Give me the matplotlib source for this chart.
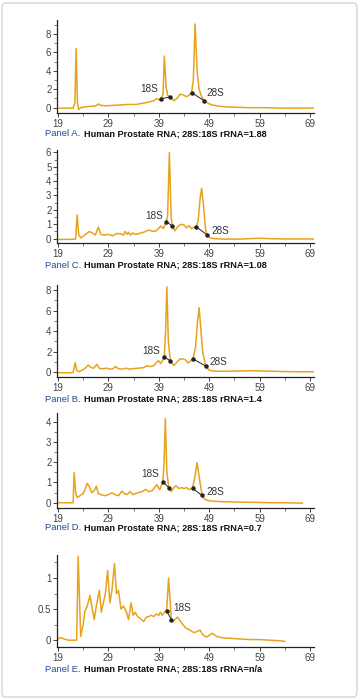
import matplotlib
matplotlib.use("Agg")
import matplotlib.pyplot as plt
from matplotlib.patches import FancyBboxPatch
from matplotlib.ticker import MultipleLocator

# ---- data (time s, fluorescence units) ----
A_X = [19, 20, 21, 22, 22.35, 22.6, 22.85, 23.1, 23.5, 24.5, 25.5, 26.5, 27.0, 27.5, 28.5, 30, 31.5, 33,
       34.5, 36, 37, 38, 38.6, 39.0, 39.5, 39.85, 40.1, 40.45, 40.8, 41.3, 42.0, 42.6, 43.2, 43.8, 44.5,
       45.0, 45.5, 45.85, 46.2, 46.6, 47.0, 47.5, 48.0, 48.7, 49.5, 50.5, 52, 54, 57, 60, 63, 66, 69.8]
A_Y = [-0.05, -0.05, -0.05, -0.05, 0.5, 6.45, 0.6, -0.2, 0.0, 0.1, 0.15, 0.2, 0.4, 0.25, 0.2, 0.25, 0.3,
       0.35, 0.35, 0.5, 0.6, 0.75, 1.0, 0.85, 0.98, 1.5, 5.6, 2.2, 1.3, 1.16, 0.76, 1.0, 1.45, 1.4, 1.2,
       1.35, 1.63, 3.0, 9.1, 4.0, 2.0, 1.2, 0.76, 0.5, 0.3, 0.2, 0.1, 0.05, 0.0, 0.0, -0.05, -0.05, -0.05]

C_X = [19, 21, 22.5, 22.8, 23.1, 23.5, 24.3, 25.2, 25.8, 26.4, 27.0, 27.5, 28.2, 29.0, 29.8, 30.6, 31.3,
       32.0, 32.3, 32.7, 33.0, 33.4, 33.8, 34.3, 35.0, 36.0, 37.1, 37.8, 38.5, 39.4, 39.9, 40.5, 40.75,
       41.1, 41.45, 41.7, 42.2, 42.8, 43.4, 44.0, 44.5, 45.0, 45.5, 46.0, 46.4, 46.8, 47.2, 47.5, 47.9,
       48.3, 48.6, 49.2, 50, 52, 55, 57, 59, 61, 64, 67, 69.8]
C_Y = [-0.05, -0.05, -0.03, 1.65, 0.3, 0.05, 0.25, 0.5, 0.4, 0.25, 0.8, 0.3, 0.25, 0.3, 0.2, 0.35, 0.35,
       0.25, 0.5, 0.3, 0.45, 0.25, 0.4, 0.3, 0.35, 0.45, 0.6, 0.5, 0.55, 0.88, 0.7, 1.18, 1.6, 5.97, 1.5,
       0.88, 0.55, 0.85, 1.0, 0.95, 0.75, 0.9, 0.7, 0.8, 0.83, 1.2, 2.8, 3.5, 2.2, 0.6, 0.26, 0.05, 0.0,
       -0.03, -0.03, 0.0, 0.03, 0.0, -0.02, -0.02, -0.02]

B_X = [19, 21, 22.0, 22.4, 22.7, 23.1, 23.8, 24.4, 25.0, 25.6, 26.1, 26.7, 27.3, 28.0, 28.7, 29.3, 29.9,
       30.4, 31.0, 31.8, 32.5, 33.2, 34.0, 35.0, 36.0, 36.6, 37.3, 38.0, 38.9, 39.4, 40.1, 40.35, 40.6,
       40.9, 41.3, 42.0, 42.6, 43.2, 43.8, 44.3, 44.8, 45.3, 45.8, 46.3, 46.7, 47.0, 47.3, 47.7, 48.3,
       49.0, 50.0, 52, 55, 58, 60, 63, 66, 69.8]
B_Y = [-0.05, -0.05, -0.03, 0.93, 0.2, 0.05, 0.2, 0.4, 0.7, 0.45, 0.4, 0.77, 0.35, 0.35, 0.4, 0.3, 0.35,
       0.55, 0.35, 0.3, 0.4, 0.3, 0.35, 0.4, 0.45, 0.63, 0.55, 0.65, 1.13, 0.85, 1.49, 4.0, 8.3, 3.0, 1.1,
       0.66, 1.0, 1.29, 1.3, 1.2, 0.9, 1.1, 1.29, 2.5, 5.0, 6.28, 4.5, 2.0, 0.61, 0.2, 0.1, 0.1, 0.12,
       0.15, 0.12, 0.08, 0.05, 0.05]

D_X = [19, 21, 22.0, 22.2, 22.5, 22.8, 23.4, 24.0, 24.5, 24.8, 25.2, 25.7, 26.2, 26.6, 27.0, 27.5, 28.3,
       29.0, 29.7, 30.3, 31.0, 31.7, 32.2, 32.7, 33.3, 33.8, 34.3, 35.0, 35.7, 36.4, 37.0, 37.7, 38.6,
       39.2, 39.8, 40.05, 40.3, 40.6, 41.0, 41.5, 42.0, 42.4, 43.0, 43.5, 44.0, 44.5, 45.0, 45.7, 46.1,
       46.6, 47.0, 47.6, 48.2, 49, 50, 52, 55, 58, 61, 64, 67.5]
D_Y = [0.0, 0.0, 0.0, 1.48, 0.5, 0.25, 0.35, 0.45, 0.75, 0.96, 0.8, 0.5, 0.6, 0.82, 0.45, 0.4, 0.35,
       0.4, 0.49, 0.4, 0.35, 0.57, 0.45, 0.4, 0.55, 0.4, 0.45, 0.5, 0.55, 0.66, 0.55, 0.6, 0.89, 0.65,
       1.04, 2.0, 4.15, 1.5, 0.74, 0.55, 0.75, 0.84, 0.7, 0.75, 0.7, 0.75, 0.65, 0.71, 1.2, 1.98, 1.3,
       0.36, 0.15, 0.1, 0.07, 0.05, 0.03, 0.02, 0.0, 0.0, -0.02]

E_X = [19, 19.6, 20.2, 21, 22, 22.7, 23.0, 23.5, 24.0, 24.3, 24.8, 25.35, 25.8, 26.2, 26.6, 27.2, 27.6,
       28.0, 28.4, 28.85, 29.3, 29.7, 30.2, 30.6, 31.0, 31.5, 32.0, 32.6, 33.0, 33.5, 33.9, 34.3, 34.8,
       35.3, 36.0, 36.5, 37.0, 37.5, 38.0, 38.5, 39.0, 39.3, 39.7, 40.1, 40.55, 40.95, 41.5, 41.8, 42.2,
       42.7, 43.3, 43.8, 44.3, 45.0, 46.0, 46.6, 47.2, 47.8, 48.5, 49.6, 50.5, 51.5, 53, 55, 57, 59, 61,
       63, 64]
E_Y = [0.02, 0.04, 0.02, 0.0, 0.0, 0.0, 1.35, 0.06, 0.25, 0.46, 0.55, 0.72, 0.5, 0.33, 0.55, 0.8, 0.45,
       0.6, 0.75, 1.12, 0.6, 0.8, 1.23, 0.75, 0.8, 0.5, 0.55, 0.45, 0.33, 0.6, 0.4, 0.45, 0.38, 0.35,
       0.3, 0.37, 0.38, 0.4, 0.38, 0.42, 0.4, 0.45, 0.4, 0.45, 0.47, 1.0, 0.33, 0.3, 0.33, 0.37, 0.3,
       0.25, 0.2, 0.17, 0.12, 0.14, 0.16, 0.08, 0.05, 0.11, 0.06, 0.04, 0.03, 0.02, 0.01, 0.01, 0.0,
       -0.01, -0.02]

# peak boundary markers (start, end) for 18S and 28S
A_18S = [(39.5, 0.98), (41.3, 1.16)]
A_28S = [(45.5, 1.63), (48.0, 0.76)]
C_18S = [(40.5, 1.18), (41.7, 0.88)]
C_28S = [(46.4, 0.83), (48.6, 0.26)]
B_18S = [(40.1, 1.49), (41.3, 1.1)]
B_28S = [(45.8, 1.29), (48.3, 0.61)]
D_18S = [(39.8, 1.04), (41.0, 0.74)]
D_28S = [(45.7, 0.71), (47.6, 0.36)]
E_18S = [(40.55, 0.47), (41.5, 0.33)]

PANEL_NAMES = ["Panel A.", "Panel C.", "Panel B.", "Panel D.", "Panel E."]
RATIOS = ["1.88", "1.08", "1.4", "0.7", "n/a"]

TRACE = "#E8A21C"
BLUE = "#1F4E8F"
FONT = ["Liberation Sans Narrow", "Liberation Sans", "DejaVu Sans"]

plt.rcParams["font.family"] = FONT

W, H = 360, 699
fig = plt.figure(figsize=(W / 100, H / 100), dpi=100)

fig.patches.append(FancyBboxPatch((2 / W, 2 / H), 355 / W, 694 / H,
                                  boxstyle="round,pad=0,rounding_size=0.008",
                                  transform=fig.transFigure, fc="none",
                                  ec="#d4d4d4", lw=1.0))

# (top px, bottom px, ylim, major step, minor step, caption y px)
panels = [
    (A_X, A_Y, [A_18S, A_28S], 20, 113, (-0.58, 9.53), 2, 1, 134,
     [("18S", 37.1, 2.0), ("28S", 50.3, 1.56)], None),
    (C_X, C_Y, [C_18S, C_28S], 150, 243, (-0.30, 6.16), 1, 0.5, 265,
     [("18S", 38.0, 1.58), ("28S", 51.3, 0.56)], None),
    (B_X, B_Y, [B_18S, B_28S], 285, 377, (-0.46, 8.48), 2, 1, 399,
     [("18S", 37.45, 2.07), ("28S", 50.9, 0.97)], None),
    (D_X, D_Y, [D_18S, D_28S], 413, 508, (-0.26, 4.43), 1, 0.5, 528,
     [("18S", 37.25, 1.4), ("28S", 50.15, 0.51)], None),
    (E_X, E_Y, [E_18S], 555, 647, (-0.11, 1.37), 0.5, 0.25, 669,
     [("18S", 43.7, 0.51)], ["0", "0.5", "1"]),
]

LEFT, RIGHT = 57, 314
for i, (xs, ys, marks, top, bot, ylim, major, minor, cap_y, labels, yt) in enumerate(panels):
    ax = fig.add_axes([LEFT / W, 1 - bot / H, (RIGHT - LEFT) / W, (bot - top) / H])
    ax.plot(xs, ys, color=TRACE, lw=1.1, solid_joinstyle="round", zorder=2)
    for seg in marks:
        sx, sy = zip(*seg)
        ax.plot(sx, sy, color="#222222", lw=0.7, marker="o", ms=2.2, zorder=3)
    for txt, tx, ty in labels:
        ax.text(tx, ty, txt, fontsize=7.2, color="#333333", ha="center", va="center")
    ax.set_xlim(18.8, 69.8)
    ax.set_ylim(*ylim)
    ax.set_xticks(range(19, 70, 10))
    ax.set_xticks(range(24, 70, 10), minor=True)
    ax.yaxis.set_major_locator(MultipleLocator(major))
    ax.yaxis.set_minor_locator(MultipleLocator(minor))
    if yt is not None:
        ax.set_yticks([0, 0.5, 1])
        ax.set_yticklabels(yt)
    for s in ("top", "right"):
        ax.spines[s].set_visible(False)
    for s in ("left", "bottom"):
        ax.spines[s].set_color("#222222")
        ax.spines[s].set_linewidth(0.9)
    ax.tick_params(which="major", direction="out", length=3, width=0.7,
                   labelsize=7, labelcolor="#444444", color="#444444", pad=1)
    ax.tick_params(which="minor", direction="out", length=2, width=0.6, color="#666666")
    ax.patch.set_alpha(0)

    fig.text(45 / W, 1 - cap_y / H, PANEL_NAMES[i], fontsize=6.8, color=BLUE,
             ha="left", va="center")
    fig.text(84 / W, 1 - cap_y / H, f"Human Prostate RNA; 28S:18S rRNA={RATIOS[i]}",
             fontsize=6.6, fontweight="bold", color="#111111", ha="left", va="center")

fig.savefig("out.png", dpi=100)
